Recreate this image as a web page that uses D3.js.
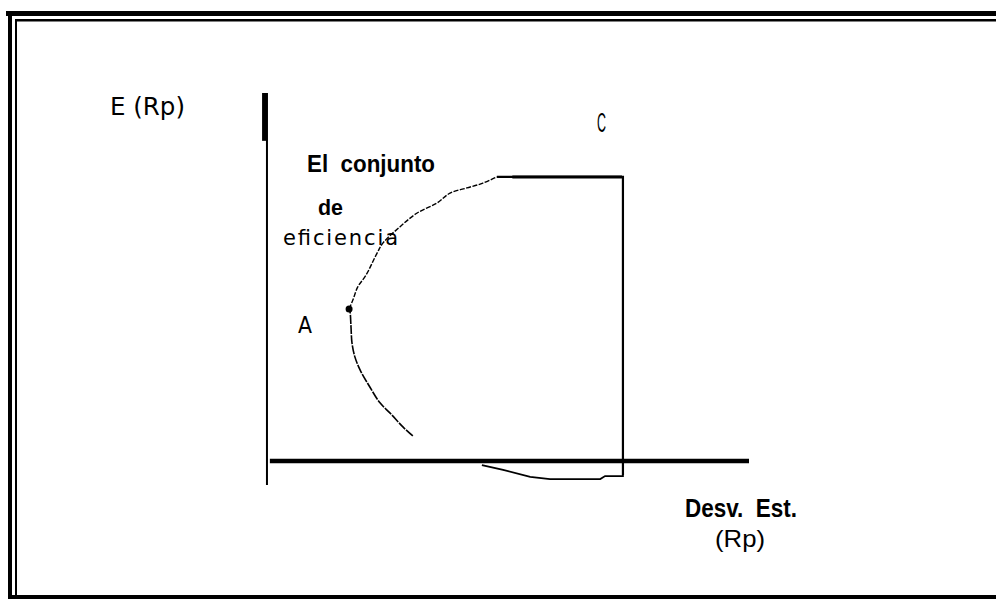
<!DOCTYPE html>
<html>
<head>
<meta charset="utf-8">
<script src="https://cdn.jsdelivr.net/npm/d3@7"></script>
<style>
  html, body { margin: 0; padding: 0; background: #fff; }
  svg { display: block; }
  .narrow { font-family: "Liberation Sans Narrow", "Arial Narrow", "Liberation Sans", sans-serif; }
  .plain { font-family: "DejaVu Sans", Verdana, sans-serif; }
</style>
</head>
<body>
<script>
// frontier (desv. est., E(Rp)) from the lower end up to the top of the curve
var frontierX = [30.4, 28.4, 25.7, 23.6, 21.5, 19.5, 18.4, 17.8, 17.6, 17.4, 17.2];
var frontierY = [6.8, 9.2, 13.0, 15.8, 20.1, 24.7, 28.3, 32.1, 36.4, 40.5, 41.3];
var upperX = [17.2, 18.0, 19.0, 20.7, 23.0, 24.2, 27.7, 31.3, 35.4, 38.1, 41.6, 44.9, 47.8];
var upperY = [41.3, 43.8, 47.3, 50.5, 56.5, 59.2, 63.6, 67.4, 70.1, 72.8, 74.2, 75.5, 77.2];
// box from C down past the axis
var boxX = [47.8, 73.7, 73.9, 73.9];
var boxY = [77.2, 77.2, 77.2, -3.8];
var bottomX = [44.7, 49.1, 54.7, 58.8, 69.2, 70.2, 73.9, 73.9];
var bottomY = [-1.1, -2.4, -4.3, -4.9, -4.9, -4.1, -4.1, 0];
var pointA = [17.2, 41.3];

var width = 996, height = 599;
var svg = d3.select("body").append("svg")
    .attr("width", width)
    .attr("height", height);

var x = d3.scaleLinear().domain([0, 100]).range([266, 749]);
var y = d3.scaleLinear().domain([0, 100]).range([461, 93]);

// frame
var frame = [
    [6, 13.5, 996, 13.5, 5],
    [15, 20.3, 996, 20.3, 2.5],
    [10, 11, 10, 599, 4],
    [16, 20, 16, 597, 2],
    [8, 597, 996, 597, 4]
];
frame.forEach(function (f) {
    svg.append("line")
        .attr("x1", f[0]).attr("y1", f[1])
        .attr("x2", f[2]).attr("y2", f[3])
        .attr("stroke", "#000").attr("stroke-width", f[4]);
});

// axes
svg.append("line")
    .attr("x1", x(0.2)).attr("y1", y(-6.5))
    .attr("x2", x(0.2)).attr("y2", y(100))
    .attr("stroke", "#000").attr("stroke-width", 2);
svg.append("line")
    .attr("x1", x(-0.4)).attr("y1", y(87))
    .attr("x2", x(-0.4)).attr("y2", y(100))
    .attr("stroke", "#000").attr("stroke-width", 4);
svg.append("line")
    .attr("x1", x(0.8)).attr("y1", y(0))
    .attr("x2", x(100)).attr("y2", y(0))
    .attr("stroke", "#000").attr("stroke-width", 4.5);

var line = d3.line()
    .x(function (d) { return x(d[0]); })
    .y(function (d) { return y(d[1]); })
    .curve(d3.curveCatmullRom);

function pairs(xs, ys) {
    return xs.map(function (v, i) { return [v, ys[i]]; });
}

svg.append("path")
    .datum(pairs(frontierX, frontierY))
    .attr("d", line)
    .attr("fill", "none")
    .attr("stroke", "#000")
    .attr("stroke-width", 1.6)
    .attr("stroke-dasharray", "9,1.2");

svg.append("path")
    .datum(pairs(upperX, upperY))
    .attr("d", line)
    .attr("fill", "none")
    .attr("stroke", "#000")
    .attr("stroke-width", 1.4)
    .attr("stroke-dasharray", "5,1.5");

svg.append("path")
    .datum(pairs(boxX, boxY))
    .attr("d", d3.line().x(function (d) { return x(d[0]); }).y(function (d) { return y(d[1]); }))
    .attr("fill", "none")
    .attr("stroke", "#000")
    .attr("stroke-width", 2.2);
// thicker top edge of the box
svg.append("line")
    .attr("x1", x(51)).attr("y1", y(77.2))
    .attr("x2", x(73.7)).attr("y2", y(77.2))
    .attr("stroke", "#000").attr("stroke-width", 3);

svg.append("path")
    .datum(pairs(bottomX, bottomY))
    .attr("d", d3.line().x(function (d) { return x(d[0]); }).y(function (d) { return y(d[1]); }))
    .attr("fill", "none")
    .attr("stroke", "#000")
    .attr("stroke-width", 1.8);

svg.append("circle")
    .attr("cx", x(pointA[0]))
    .attr("cy", y(pointA[1]))
    .attr("r", 3.5)
    .attr("fill", "#000");

// labels
function label(t, px, py, cls, size, weight, len, adjust) {
    var el = svg.append("text")
        .attr("class", cls)
        .attr("x", px).attr("y", py)
        .attr("font-size", size)
        .attr("font-weight", weight)
        .attr("fill", "#000")
        .attr("xml:space", "preserve")
        .text(t);
    if (len) el.attr("textLength", len).attr("lengthAdjust", adjust || "spacingAndGlyphs");
    return el;
}
label("E (Rp)", 110, 115, "plain", 24, "normal", 75);
label("El  conjunto", 307, 172, "narrow", 24, "bold", 128);
label("de", 318, 215, "narrow", 22, "bold", 25);
label("eficiencia", 283, 245, "plain", 21, "normal", 115, "spacing");
label("A", 298, 333, "plain", 23, "normal", 14);
label("C", 597, 132, "narrow", 27, "normal", 9);
label("Desv.  Est.", 685, 517, "narrow", 26, "bold", 112);
label("(Rp)", 715, 547, "narrow", 24, "normal", 50);
</script>
</body>
</html>
